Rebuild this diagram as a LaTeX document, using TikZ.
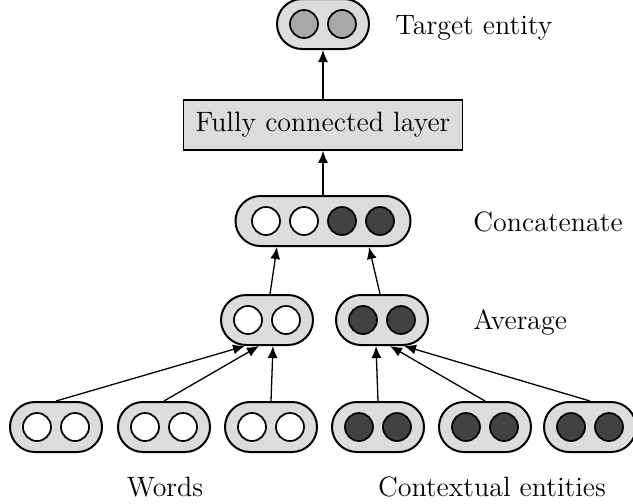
\documentclass[tikz,border=0pt]{standalone}
\usetikzlibrary{calc,arrows.meta}
\definecolor{pillgray}{RGB}{220,220,223}
\definecolor{dotdark}{RGB}{66,66,66}
\definecolor{dotmid}{RGB}{168,168,168}
\tikzset{
 emb pill/.style={draw,line width=1pt,fill=pillgray,rounded corners=12.5pt,
                  minimum width=46pt,minimum height=25pt,inner sep=0pt},
 emb wide/.style={emb pill,minimum width=87.5pt},
 emb dot/.style={circle,draw,line width=0.85pt,minimum size=14pt,inner sep=0pt},
 emb arrow/.style={-{Latex[length=6pt,width=5pt]},line width=0.65pt},
 emb label/.style={font=\fontsize{14}{16}\selectfont,inner sep=0pt},
 fc box/.style={draw,line width=0.8pt,fill=pillgray,minimum height=25pt,
                inner xsep=6pt,font=\fontsize{14}{16}\selectfont}
}

\begin{document}
\begin{tikzpicture}[x=0.5pt,y=-0.5pt]
 \useasboundingbox (0,0) rectangle (633,504);

 % input vectors: words (white) and contextual entities (dark)
 \foreach \p/\x/\c in {w1/56/white,w2/164/white,w3/271/white,
                      e1/378/dotdark,e2/485/dotdark,e3/590/dotdark}{
   \node[emb pill] (\p) at (\x,427) {};
   \node[emb dot,fill=\c] (\p a) at ($(\p)+(-19,0)$) {};
   \node[emb dot,fill=\c] (\p b) at ($(\p)+(19,0)$) {};
 }

 % averaged vectors
 \foreach \p/\x/\c in {avgw/267/white,avge/382/dotdark}{
   \node[emb pill] (\p) at (\x,320) {};
   \node[emb dot,fill=\c] (\p a) at ($(\p)+(-19,0)$) {};
   \node[emb dot,fill=\c] (\p b) at ($(\p)+(19,0)$) {};
 }

 % concatenation
 \node[emb wide] (cat) at (323,221) {};
 \foreach \i/\dx/\c in {1/-57/white,2/-19/white,3/19/dotdark,4/57/dotdark}
   \node[emb dot,fill=\c] (cat\i) at ($(cat)+(\dx,0)$) {};

 \node[fc box] (fc) at (323,125) {Fully connected layer};

 % output
 \node[emb pill] (tgt) at (323,24) {};
 \node[emb dot,fill=dotmid] (tgt a) at ($(tgt)+(-19,0)$) {};
 \node[emb dot,fill=dotmid] (tgt b) at ($(tgt)+(19,0)$) {};

 \draw[emb arrow] (w1.north) -- ($(avgw.south)+(-22,0)$);
 \draw[emb arrow] (w2.north) -- ($(avgw.south)+(-8,0)$);
 \draw[emb arrow] (w3.north) -- ($(avgw.south)+(6,0)$);
 \draw[emb arrow] (e1.north) -- ($(avge.south)+(-6,0)$);
 \draw[emb arrow] (e2.north) -- ($(avge.south)+(8,0)$);
 \draw[emb arrow] (e3.north) -- ($(avge.south)+(22,0)$);
 \draw[emb arrow] ($(avgw.north)+(3,0)$) -- ($(cat.south)+(-46,0)$);
 \draw[emb arrow] ($(avge.north)+(-2,0)$) -- ($(cat.south)+(46,0)$);
 \draw[emb arrow] (cat.north) -- (fc.south);
 \draw[emb arrow] (fc.north) -- (tgt.south);

 \node[emb label,anchor=west] (lt) at (395,28) {Target entity};
 \node[emb label,anchor=west] (lc) at (473,222) {Concatenate};
 \node[emb label,anchor=west] (la) at (473,322) {Average};
 \node[emb label] (lw) at (165,487) {Words};
 \node[emb label] (le) at (492,487) {Contextual entities};
\end{tikzpicture}
\end{document}
